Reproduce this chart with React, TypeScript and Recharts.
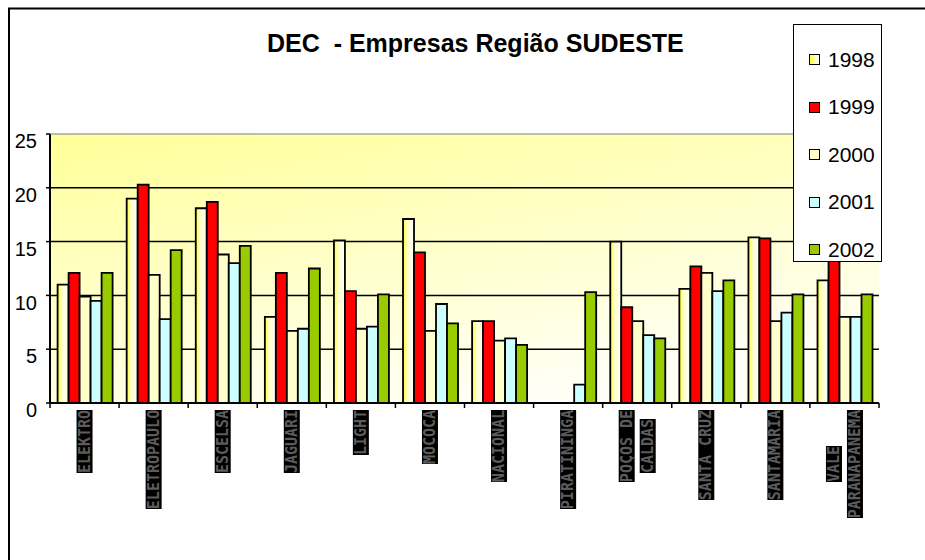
import React from 'react';
import {
  BarChart,
  Bar,
  XAxis,
  YAxis,
  CartesianGrid,
  ReferenceLine,
  Legend,
} from 'recharts';

const categories = [
  'ELEKTRO',
  'ELETROPAULO',
  'ESCELSA',
  'JAGUARI',
  'LIGHT',
  'MOCOCA',
  'NACIONAL',
  'PIRATININGA',
  'POÇOS DE\nCALDAS',
  'SANTA CRUZ',
  'SANTAMARIA',
  'VALE\nPARANAPANEMA',
];

const dec1998 = [11.0, 19.0, 18.1, 8.0, 15.1, 17.1, 7.6, null, 15.0, 10.6, 15.4, 11.4];
const dec1999 = [12.1, 20.3, 18.7, 12.1, 10.4, 14.0, 7.6, null, 8.9, 12.7, 15.3, 14.5];
const dec2000 = [9.9, 11.9, 13.8, 6.7, 6.9, 6.7, 5.8, null, 7.6, 12.1, 7.6, 8.0];
const dec2001 = [9.5, 7.8, 13.0, 6.9, 7.1, 9.2, 6.0, 1.7, 6.3, 10.4, 8.4, 8.0];
const dec2002 = [12.1, 14.2, 14.6, 12.5, 10.1, 7.4, 5.4, 10.3, 6.0, 11.4, 10.1, 10.1];

const yTicks = [0, 5, 10, 15, 20, 25];

const data = categories.map((name, i) => ({
  name,
  y1998: dec1998[i],
  y1999: dec1999[i],
  y2000: dec2000[i],
  y2001: dec2001[i],
  y2002: dec2002[i],
}));

const series = [
  { key: 'y1998', name: '1998', fill: 'url(#grad1998)', swatch: 'linear-gradient(to right, #ffff44, #ffffff)' },
  { key: 'y1999', name: '1999', fill: '#ff0000', swatch: '#ff0000' },
  { key: 'y2000', name: '2000', fill: '#ffffcc', swatch: '#ffffcc' },
  { key: 'y2001', name: '2001', fill: '#ccffff', swatch: '#ccffff' },
  { key: 'y2002', name: '2002', fill: '#99cc00', swatch: '#99cc00' },
];

const W = 925;
const H = 560;
const M = { top: 134, right: 46, left: 0, bottom: 0 };
const Y_AXIS_W = 50;
const band = (W - M.right - Y_AXIS_W) / categories.length;
const FONT = '"Liberation Sans", Arial, sans-serif';

const XTick = (props: any) => {
  const { x, y, payload, index } = props;
  const lines = String(payload.value).split('\n');
  const adv = 9;
  const maxLen = Math.max(...lines.map((l) => l.length)) * adv;
  const cy = y + 7 + maxLen / 2;
  return (
    <g>
      <line x1={x - band / 2} x2={x - band / 2} y1={y} y2={y + 5} stroke="#000" strokeWidth={1.5} />
      {index === categories.length - 1 && (
        <line x1={x + band / 2} x2={x + band / 2} y1={y} y2={y + 5} stroke="#000" strokeWidth={1.5} />
      )}
      {lines.map((l, i) => {
        const lx = x + (i - (lines.length - 1) / 2) * 21;
        const len = l.length * adv;
        return (
          <g key={i}>
            <rect x={lx - 8} y={cy - len / 2} width={16} height={len} fill="#000" />
            <text
              x={lx}
              y={cy}
              transform={`rotate(-90 ${lx} ${cy})`}
              textAnchor="middle"
              dominantBaseline="central"
              fill="#5c5c5c"
              fontFamily='"DejaVu Sans Mono", monospace'
              fontWeight="bold"
              fontSize={15}
              style={{ whiteSpace: 'pre' }}
            >
              {l}
            </text>
          </g>
        );
      })}
    </g>
  );
};

const YTick = (props: any) => {
  const { x, y, payload } = props;
  return (
    <text x={x} y={y + 7} dy="0.355em" textAnchor="end" fill="#000" fontSize={20} fontFamily={FONT}>
      {payload.value}
    </text>
  );
};

const LegendBox = (props: any) => {
  const { payload } = props;
  return (
    <div
      style={{
        width: 89,
        height: 238,
        boxSizing: 'border-box',
        border: '1.5px solid #000',
        background: '#fff',
        paddingTop: 11,
        fontFamily: FONT,
      }}
    >
      {(payload || []).map((entry: any) => {
        const s = series.find((d) => d.name === entry.value);
        return (
          <div key={entry.value} style={{ display: 'flex', alignItems: 'center', height: 47.5 }}>
            <div
              style={{
                width: 11,
                height: 11,
                marginLeft: 15,
                marginRight: 8,
                border: '1.5px solid #000',
                boxSizing: 'border-box',
                background: s ? s.swatch : entry.color,
              }}
            />
            <span style={{ fontSize: 21, color: '#000' }}>{entry.value}</span>
          </div>
        );
      })}
    </div>
  );
};

export default function App() {
  return (
    <div style={{ position: 'absolute', left: 0, top: 0, width: W, height: H, background: '#fff' }}>
      <BarChart
        width={W}
        height={H}
        data={data}
        margin={M}
        barCategoryGap="11%"
        barGap={0}
      >
        <defs>
          <linearGradient id="bgGrad" x1="0" y1="0" x2="0.5" y2="1">
            <stop offset="0%" stopColor="#ffff99" />
            <stop offset="100%" stopColor="#fffff6" />
          </linearGradient>
          <linearGradient id="grad1998" x1="0" y1="0" x2="1" y2="0">
            <stop offset="0%" stopColor="#ffff33" />
            <stop offset="40%" stopColor="#ffffcc" />
            <stop offset="100%" stopColor="#ffffff" />
          </linearGradient>
        </defs>
        <CartesianGrid
          vertical={false}
          horizontalValues={[5, 10, 15, 20]}
          stroke="#000"
          strokeWidth={1.5}
          fill="url(#bgGrad)"
          fillOpacity={1}
        />
        <ReferenceLine y={25} stroke="#a8a898" strokeWidth={1.5} />
        <XAxis
          dataKey="name"
          interval={0}
          height={H - 403 - M.bottom}
          tickSize={0}
          tickMargin={0}
          tickLine={false}
          axisLine={{ stroke: '#000', strokeWidth: 2 }}
          tick={<XTick />}
        />
        <YAxis
          width={Y_AXIS_W}
          domain={[0, 25]}
          ticks={yTicks}
          allowDataOverflow
          tickSize={4}
          tickMargin={9}
          tickLine={{ stroke: '#000', strokeWidth: 1.5 }}
          axisLine={{ stroke: '#000', strokeWidth: 2 }}
          tick={<YTick />}
        />
        {series.map((s) => (
          <Bar
            key={s.key}
            dataKey={s.key}
            name={s.name}
            fill={s.fill}
            stroke="#000"
            strokeWidth={1.8}
            isAnimationActive={false}
          />
        ))}
        <Legend
          layout="horizontal"
          verticalAlign="middle"
          align="center"
          content={<LegendBox />}
          wrapperStyle={{ position: 'absolute', left: 793, top: 24, width: 89, height: 238 }}
        />
      </BarChart>
      <svg
        width={W}
        height={H}
        style={{ position: 'absolute', left: 0, top: 0, pointerEvents: 'none' }}
      >
        <line x1={8} x2={W} y1={8.5} y2={8.5} stroke="#000" strokeWidth={2} />
        <line x1={9} x2={9} y1={8} y2={H} stroke="#000" strokeWidth={2} />
        <text
          x={267}
          y={52}
          fontFamily={FONT}
          fontWeight="bold"
          fontSize={25}
          fill="#000"
          style={{ whiteSpace: 'pre' }}
        >
          {'DEC  - Empresas Região SUDESTE'}
        </text>
      </svg>
    </div>
  );
}
